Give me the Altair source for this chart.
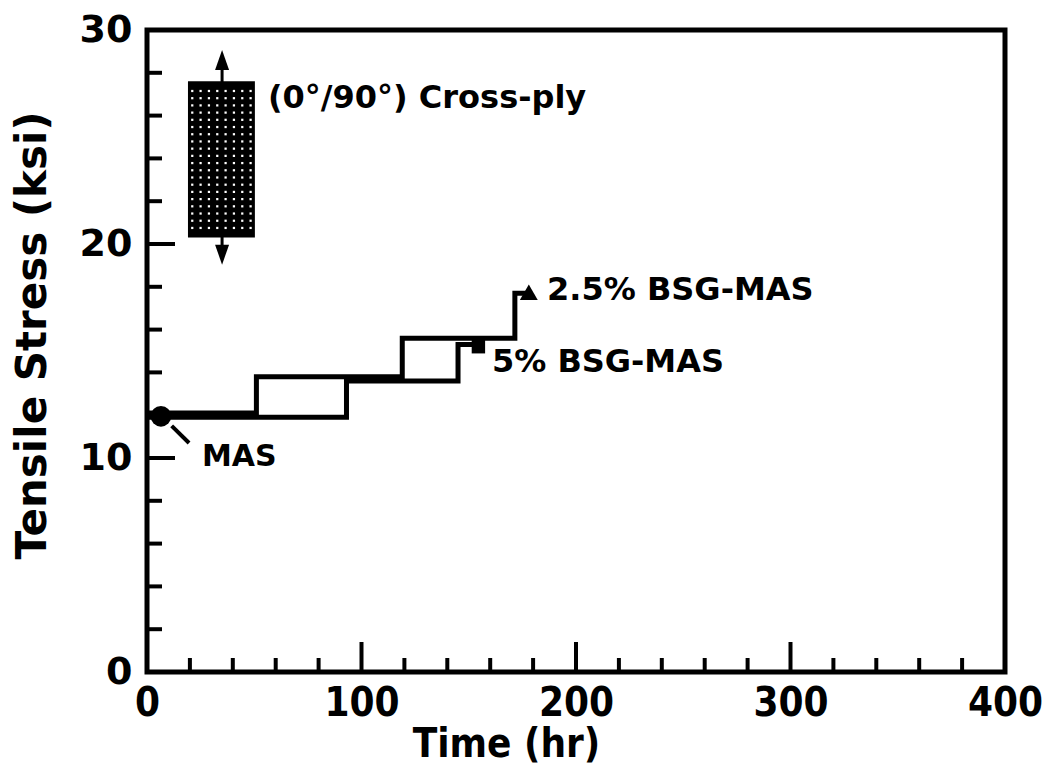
import altair as alt
import pandas as pd
import numpy as np

# ---- data ----
# 2.5% BSG-MAS stepped history (time hr, stress ksi)
t_25 = [0, 51, 119, 171.5, 177]
s_25 = [12.1, 13.8, 15.6, 17.7, 17.7]
# 5% BSG-MAS stepped history
t_5 = [0, 93, 145, 154]
s_5 = [11.9, 13.6, 15.3, 15.3]
# end markers
mas_pt = (6.5, 11.95)
tri_pt = (178, 17.75)
sq_pt = (154.5, 15.2)

# annotation texts
lab_text = ["(0°/90°)  Cross-ply", "2.5% BSG-MAS", "5% BSG-MAS", "MAS"]
lab_x = [56.4, 186.5, 160.8, 25.6]
lab_y = [26.8, 17.85, 14.5, 10.05]
lab_size = [32, 32, 32, 30]

# cross-ply specimen sketch (data units)
spec_x = [19.1, 50.3]
spec_y = [20.3, 27.6]
arrow_x = 35
arrow_y = [19.5, 28.6]

# MAS pointer line
ptr_x = [11.5, 19.6]
ptr_y = [11.5, 10.7]

# tick values
x_major = [100, 200, 300]
x_minor = [20, 40, 60, 80, 120, 140, 160, 180, 220, 240, 260, 280, 320, 340, 360, 380]
y_major = [10, 20]
y_minor = [2, 4, 6, 8, 12, 14, 16, 18, 22, 24, 26, 28]
x_labels = [0, 100, 200, 300, 400]
y_labels = [0, 10, 20, 30]

W, H = 858, 642
xs = alt.Scale(domain=[0, 400], nice=False, zero=False)
ys = alt.Scale(domain=[0, 30], nice=False, zero=False)

x_axis = alt.Axis(
    values=x_labels, ticks=False, domain=False, grid=False, labelFlush=False,
    labelFont="DejaVu Sans Condensed", labelFontWeight="bold", labelFontSize=40,
    labelColor="black", labelPadding=11,
    title="Time (hr)", titleFont="DejaVu Sans Condensed", titleFontWeight="bold",
    titleFontSize=40, titleColor="black", titleX=359, titleY=72,
    titleBaseline="middle", titleAlign="center")
y_axis = alt.Axis(
    values=y_labels, ticks=False, domain=False, grid=False, labelFlush=False,
    labelFont="DejaVu Sans", labelFontWeight="bold", labelFontSize=38,
    labelColor="black", labelPadding=15,
    title="Tensile Stress (ksi)", titleFont="DejaVu Sans", titleFontWeight="bold",
    titleFontSize=42, titleColor="black", titleX=-115, titleY=305,
    titleBaseline="middle", titleAlign="center")


def X(f="t"):
    return alt.X(f"{f}:Q", scale=xs, axis=x_axis)


def Y(f="s"):
    return alt.Y(f"{f}:Q", scale=ys, axis=y_axis)


df25 = pd.DataFrame({"t": t_25, "s": s_25})
df5 = pd.DataFrame({"t": t_5, "s": s_5})

line25 = alt.Chart(df25).mark_line(interpolate="step-after", color="black",
                                   strokeWidth=5, strokeJoin="miter").encode(x=X(), y=Y())
line5 = alt.Chart(df5).mark_line(interpolate="step-after", color="black",
                                 strokeWidth=5, strokeJoin="miter").encode(x=X(), y=Y())

mas = alt.Chart(pd.DataFrame({"t": [mas_pt[0]], "s": [mas_pt[1]]})).mark_point(
    shape="circle", filled=True, size=430, color="black", opacity=1).encode(x=X(), y=Y())
tri = alt.Chart(pd.DataFrame({"t": [tri_pt[0]], "s": [tri_pt[1]]})).mark_point(
    shape="triangle-up", filled=True, size=320, color="black", opacity=1).encode(x=X(), y=Y())
sq = alt.Chart(pd.DataFrame({"t": [sq_pt[0]], "s": [sq_pt[1]]})).mark_point(
    shape="square", filled=True, size=180, color="black", opacity=1).encode(x=X(), y=Y())

ptr = alt.Chart(pd.DataFrame({"t": [ptr_x[0]], "s": [ptr_y[0]], "t2": [ptr_x[1]], "s2": [ptr_y[1]]})).mark_rule(
    color="black", strokeWidth=4).encode(x=X(), y=Y(), x2="t2:Q", y2="s2:Q")

labels = alt.Chart(pd.DataFrame({"t": lab_x, "s": lab_y, "txt": lab_text, "fs": lab_size})).mark_text(
    align="left", baseline="middle", font="DejaVu Sans", fontWeight="bold",
    color="black").encode(x=X(), y=Y(), text="txt:N", size=alt.Size("fs:Q", scale=None, legend=None))

# specimen sketch
shaft = alt.Chart(pd.DataFrame({"t": [arrow_x], "s": [arrow_y[0]], "s2": [arrow_y[1]]})).mark_rule(
    color="black", strokeWidth=3).encode(x=X(), y=Y(), y2="s2:Q")
head_up = alt.Chart(pd.DataFrame({"t": [arrow_x], "s": [arrow_y[1]]})).mark_point(
    shape="M0,-1L0.7,1L-0.7,1Z", filled=True, size=400, color="black", opacity=1,
    strokeWidth=0).encode(x=X(), y=Y())
head_dn = alt.Chart(pd.DataFrame({"t": [arrow_x], "s": [arrow_y[0]]})).mark_point(
    shape="M0,1L0.7,-1L-0.7,-1Z", filled=True, size=400, color="black", opacity=1,
    strokeWidth=0).encode(x=X(), y=Y())
spec = alt.Chart(pd.DataFrame({"t": [spec_x[0]], "t2": [spec_x[1]], "s": [spec_y[0]], "s2": [spec_y[1]]})).mark_rect(
    color="black").encode(x=X(), x2="t2:Q", y=Y(), y2="s2:Q")
# dotted weave texture of the specimen
gx, gy = np.meshgrid(np.linspace(spec_x[0] + 2.0, spec_x[1] - 2.0, 8),
                     np.linspace(spec_y[0] + 0.45, spec_y[1] - 0.45, 20))
dots = alt.Chart(pd.DataFrame({"t": gx.ravel(), "s": gy.ravel()})).mark_square(
    size=5, color="white", opacity=1).encode(x=X(), y=Y())

# inward ticks
xt_minor = alt.Chart(pd.DataFrame({"t": x_minor})).mark_rule(color="black", strokeWidth=4).encode(
    x=X(), y=alt.value(H), y2=alt.value(H - 14))
xt_major = alt.Chart(pd.DataFrame({"t": x_major})).mark_rule(color="black", strokeWidth=4).encode(
    x=X(), y=alt.value(H), y2=alt.value(H - 30))
yt_minor = alt.Chart(pd.DataFrame({"s": y_minor})).mark_rule(color="black", strokeWidth=4).encode(
    y=Y(), x=alt.value(0), x2=alt.value(15))
yt_major = alt.Chart(pd.DataFrame({"s": y_major})).mark_rule(color="black", strokeWidth=4).encode(
    y=Y(), x=alt.value(0), x2=alt.value(28))

chart = alt.layer(
    line25, line5, xt_minor, xt_major, yt_minor, yt_major,
    spec, dots, shaft, head_up, head_dn,
    ptr, mas, tri, sq, labels
).properties(
    width=W, height=H,
    autosize=alt.AutoSizeParams(type="none"),
    padding={"left": 139, "top": 22, "right": 45, "bottom": 94},
    background="white",
).configure_view(stroke="black", strokeWidth=5)

chart.save("out.html", embed_options={"renderer": "svg", "actions": False})
